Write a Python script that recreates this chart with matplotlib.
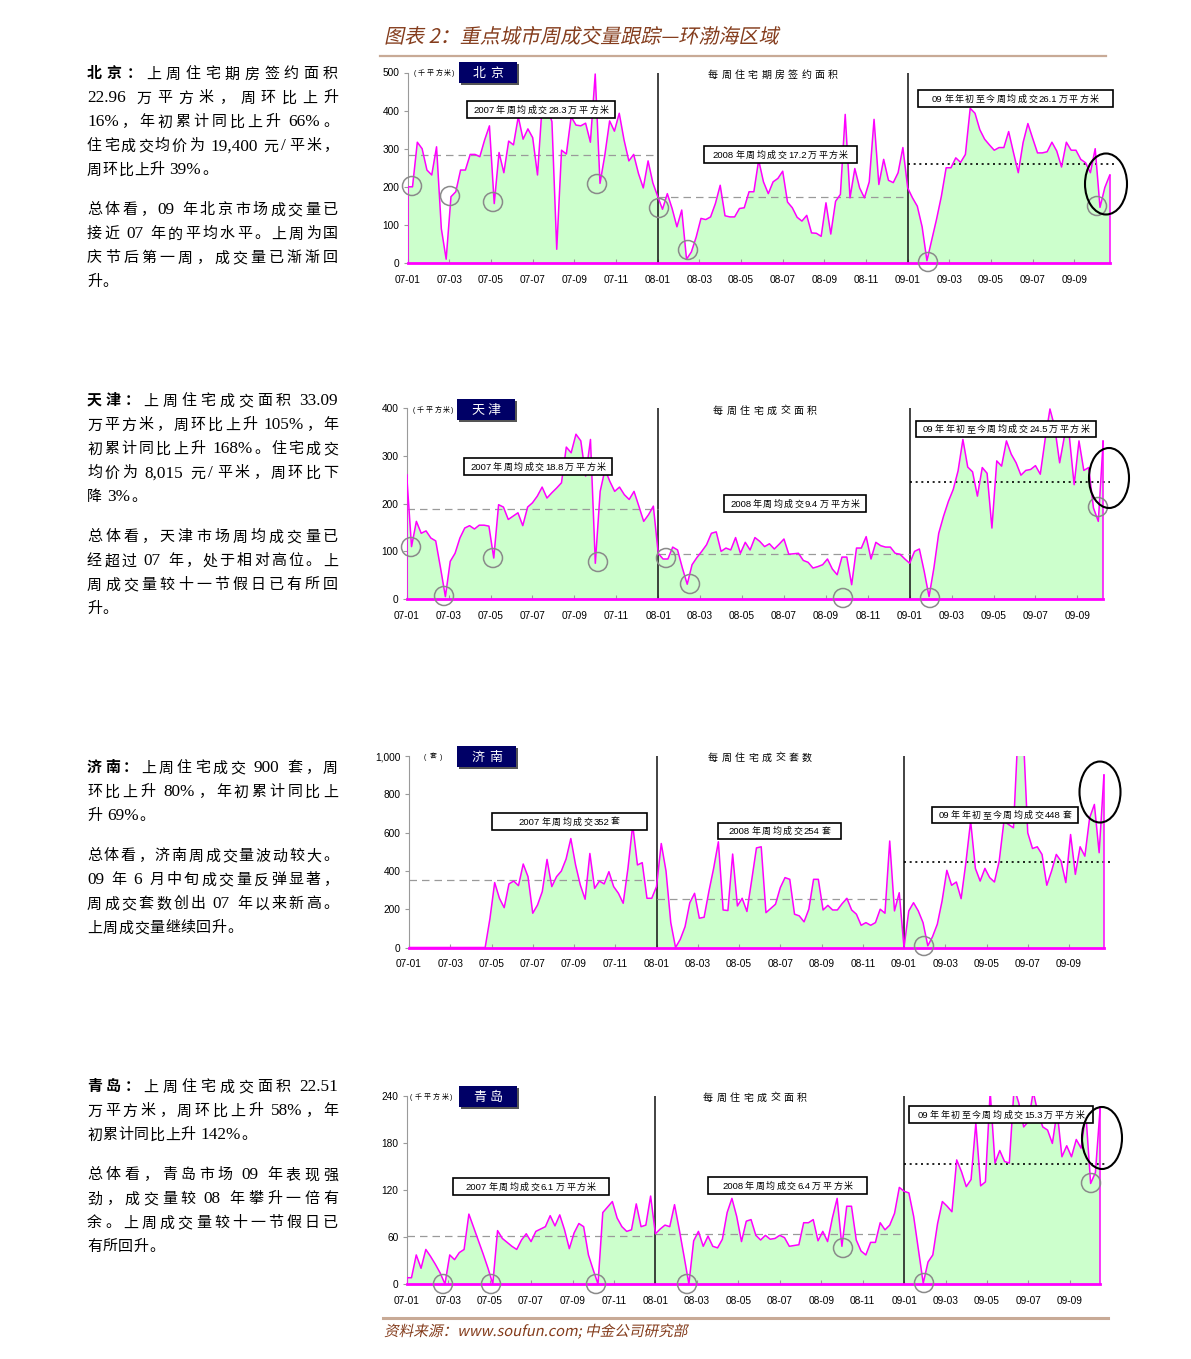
"""Weekly housing transaction tracker for four Bohai-rim cities (2007-2009)."""

import matplotlib

matplotlib.use("Agg")
import matplotlib.pyplot as plt
import numpy as np
from matplotlib.font_manager import FontProperties
from matplotlib.patches import Ellipse, PathPatch, Rectangle
from matplotlib.textpath import TextPath
from matplotlib.ticker import FuncFormatter
from matplotlib.transforms import Affine2D

FIG_W, FIG_H = 1191, 1359
CJK = "Noto Sans CJK SC"
SANS = "Liberation Sans"
SERIF = "Liberation Serif"
MAGENTA = "#ff00ff"
FILL = "#ccffcc"
BROWN = "#843c1c"
RULE = "#c8aa96"
NAVY = "#000066"

MONTH_LABELS = ["07-01", "07-03", "07-05", "07-07", "07-09", "07-11",
                "08-01", "08-03", "08-05", "08-07", "08-09", "08-11",
                "09-01", "09-03", "09-05", "09-07", "09-09"]

# Beijing, weekly signed area of off-plan housing (thousand sq m)
BJ_2007 = [200, 200, 317, 300, 244, 231, 305, 90, 10, 174, 187, 244, 244, 285, 285, 279, 323, 360,
           156, 290, 237, 320, 310, 384, 325, 352, 329, 231, 420, 410, 371, 36, 296, 286, 384, 362,
           360, 367, 317, 496, 209, 283, 373, 346, 393, 323, 268, 285, 235, 197, 268, 210]
BJ_2008 = [175, 141, 182, 143, 95, 139, 10, 29, 68, 117, 114, 121, 156, 204, 124, 121, 121, 143,
           145, 187, 187, 270, 213, 182, 213, 222, 241, 160, 145, 120, 110, 125, 79, 78, 70, 158,
           76, 162, 180, 390, 171, 248, 197, 171, 213, 377, 206, 272, 217, 211, 237, 303]
BJ_2009 = [197, 171, 149, 95, 6, 60, 115, 175, 250, 250, 276, 264, 285, 406, 393, 350, 325, 310,
           296, 303, 303, 345, 290, 237, 316, 366, 327, 289, 289, 292, 317, 294, 252, 317, 296, 296,
           272, 263, 237, 300, 146, 198, 230]
BJ_AVG = [283, 172, 261]
BJ_NOTES = ["2007年周均成交28.3万平方米", "2008年周均成交17.2万平方米", "09年年初至今周均成交26.1万平方米"]

# Tianjin, weekly transacted area (thousand sq m)
TJ_2007 = [260, 110, 163, 138, 143, 128, 122, 65, 5, 79, 96, 128, 149, 154, 147, 155, 155, 153,
           86, 198, 193, 167, 174, 181, 154, 193, 202, 216, 235, 212, 223, 233, 244, 319, 307, 346,
           332, 258, 335, 75, 226, 272, 247, 226, 235, 219, 209, 226, 195, 163, 177, 195]
TJ_2008 = [96, 84, 84, 109, 103, 65, 31, 72, 87, 100, 114, 138, 141, 100, 107, 103, 129, 96, 119,
           103, 129, 121, 110, 116, 105, 115, 126, 94, 95, 96, 81, 77, 65, 68, 72, 84, 63, 51, 88,
           88, 30, 107, 107, 131, 84, 119, 112, 109, 109, 96, 94, 84]
TJ_2009 = [75, 100, 105, 58, 5, 65, 138, 174, 205, 230, 269, 335, 277, 267, 216, 276, 264, 149,
           290, 279, 332, 304, 286, 260, 270, 272, 280, 262, 335, 399, 360, 286, 342, 342, 240, 332,
           270, 276, 191, 163, 331]
TJ_AVG = [188, 94, 245]
TJ_NOTES = ["2007年周均成交18.8万平方米", "2008年周均成交9.4万平方米", "09年年初至今周均成交24.5万平方米"]

# Jinan, weekly transacted units
JN_2007 = [0, 0, 0, 0, 0, 0, 0, 0, 0, 0, 0, 0, 0, 0, 0, 0, 0,
           150, 339, 257, 208, 332, 347, 323, 436, 370, 179, 222, 292, 460, 318, 370, 399, 462, 569,
           431, 326, 252, 491, 309, 347, 332, 396, 318, 283, 231, 413, 640, 431, 443, 257, 257]
JN_2008 = [318, 543, 399, 130, 0, 43, 109, 234, 283, 153, 158, 292, 413, 552, 196, 193, 488, 217,
           257, 188, 352, 520, 526, 182, 204, 226, 312, 365, 356, 174, 165, 134, 200, 356, 356, 196,
           220, 196, 196, 229, 257, 196, 174, 116, 130, 116, 130, 200, 179, 556, 191, 286]
JN_2009 = [0, 191, 234, 191, 130, 9, 57, 122, 243, 403, 325, 342, 255, 443, 660, 413, 347, 413,
           365, 342, 451, 660, 642, 625, 1150, 1150, 599, 517, 526, 486, 325, 399, 486, 451, 339,
           590, 382, 526, 477, 677, 747, 495, 900]
JN_AVG = [352, 254, 448]
JN_NOTES = ["2007年周均成交352套", "2008年周均成交254套", "09年年初至今周均成交448套"]

# Qingdao, weekly transacted area (thousand sq m)
QD_2007 = [8, 8, 37, 20, 44, 35, 25, 14, 0, 37, 31, 40, 44, 89, 72, 55, 38, 20, 0, 68, 58, 53, 48,
           44, 56, 64, 54, 67, 70, 73, 87, 74, 88, 69, 45, 65, 77, 73, 37, 18, 0, 91, 98, 105, 84,
           73, 67, 69, 102, 73, 75, 112]
QD_2008 = [64, 70, 75, 73, 101, 69, 35, 0, 55, 67, 48, 61, 48, 46, 57, 91, 109, 86, 54, 80, 82, 62,
           56, 62, 57, 58, 62, 59, 48, 49, 50, 78, 78, 82, 55, 67, 54, 84, 109, 48, 99, 99, 56, 42,
           37, 53, 53, 78, 69, 75, 90, 123]
QD_2009 = [118, 116, 86, 43, 1, 28, 37, 77, 105, 99, 92, 158, 143, 124, 133, 205, 125, 130, 245,
           154, 170, 156, 154, 250, 230, 200, 207, 245, 217, 200, 196, 179, 220, 162, 176, 162, 184,
           173, 217, 128, 142, 225]
QD_AVG = [61, 64, 153]
QD_NOTES = ["2007年周均成交6.1万平方米", "2008年周均成交6.4万平方米", "09年年初至今周均成交15.3万平方米"]

BJ_TEXT = [["北京：上周住宅期房签约面积", "22.96 万平方米，周环比上升", "16%，年初累计同比上升 66%。",
            "住宅成交均价为 19,400 元/平米，", "周环比上升 39%。"],
           ["总体看，09 年北京市场成交量已", "接近 07 年的平均水平。上周为国", "庆节后第一周，成交量已渐渐回", "升。"]]
TJ_TEXT = [["天津：上周住宅成交面积 33.09", "万平方米，周环比上升 105%，年", "初累计同比上升 168%。住宅成交",
            "均价为 8,015 元/平米，周环比下", "降 3%。"],
           ["总体看，天津市场周均成交量已", "经超过 07 年，处于相对高位。上", "周成交量较十一节假日已有所回", "升。"]]
JN_TEXT = [["济南：上周住宅成交 900 套，周", "环比上升 80%，年初累计同比上", "升 69%。"],
           ["总体看，济南周成交量波动较大。", "09 年 6 月中旬成交量反弹显著，", "周成交套数创出 07 年以来新高。",
            "上周成交量继续回升。"]]
QD_TEXT = [["青岛：上周住宅成交面积 22.51", "万平方米，周环比上升 58%，年", "初累计同比上升 142%。"],
           ["总体看，青岛市场 09 年表现强", "劲，成交量较 08 年攀升一倍有", "余。上周成交量较十一节假日已", "有所回升。"]]

PANELS = [
    dict(name="北京", unit="(千平方米)", subtitle="每周住宅期房签约面积", text=BJ_TEXT, text_top=73,
         years=(BJ_2007, BJ_2008, BJ_2009), avg=BJ_AVG, notes=BJ_NOTES, ymax=500, ystep=100,
         left=407.7, year_px=250.0, bottom=263, top=72.5,
         unit_box=(414, 41, 72), badge=(459, 62, 58, 21), sub_box=(708, 130, 74),
         boxes=[(467, 101, 148, 17), (704, 146, 153, 17), (918, 90, 195, 17)],
         circles=[(412, 186), (450, 196), (493, 202), (597, 184), (659, 208), (688, 250), (928, 262), (1097, 206)],
         oval=(1106, 184, 42, 61)),
    dict(name="天津", unit="(千平方米)", subtitle="每周住宅成交面积", text=TJ_TEXT, text_top=400,
         years=(TJ_2007, TJ_2008, TJ_2009), avg=TJ_AVG, notes=TJ_NOTES, ymax=400, ystep=100,
         left=406.7, year_px=251.5, bottom=599, top=408.5,
         unit_box=(413, 41, 409), badge=(457, 399, 58, 21), sub_box=(713, 104, 410),
         boxes=[(464, 458, 148, 17), (724, 495, 142, 17), (916, 421, 180, 16)],
         circles=[(411, 547), (444, 596), (493, 558), (598, 562), (666, 558), (690, 584), (843, 598), (930, 598), (1098, 507)],
         oval=(1109, 478, 40, 60)),
    dict(name="济南", unit="(套)", subtitle="每周住宅成交套数", text=JN_TEXT, text_top=767,
         years=(JN_2007, JN_2008, JN_2009), avg=JN_AVG, notes=JN_NOTES, ymax=1000, ystep=200,
         left=409.0, year_px=247.5, bottom=947.5, top=756,
         unit_box=(424, 19, 756), badge=(457, 746, 59, 21), sub_box=(708, 104, 757),
         boxes=[(492, 813, 155, 17), (718, 823, 123, 16), (932, 807, 146, 16)],
         circles=[(924, 946)],
         oval=(1100, 792, 41, 61)),
    dict(name="青岛", unit="(千平方米)", subtitle="每周住宅成交面积", text=QD_TEXT, text_top=1086,
         years=(QD_2007, QD_2008, QD_2009), avg=QD_AVG, notes=QD_NOTES, ymax=240, ystep=60,
         left=406.7, year_px=248.7, bottom=1284, top=1095.5,
         unit_box=(410, 43, 1096), badge=(459, 1086, 58, 21), sub_box=(703, 104, 1097),
         boxes=[(453, 1178, 156, 17), (708, 1177, 159, 17), (909, 1106, 184, 17)],
         circles=[(443, 1284), (491, 1284), (596, 1284), (687, 1284), (843, 1248), (924, 1283), (1091, 1183)],
         oval=(1102, 1138, 40, 62)),
]

SPAN_WEEKS = 150


def is_wide(ch):
    return ord(ch) > 0x2000


def tokenize(text, size):
    """Split into CJK glyphs and latin runs; spaces become extra lead-in on the next token."""
    tokens, run, pre = [], "", 0.0
    for ch in text:
        if ch == " " or is_wide(ch):
            if run:
                tokens.append((run, pre))
                run, pre = "", 0.0
            if ch == " ":
                pre += 0.3 * size
            else:
                tokens.append((ch, pre))
                pre = 0.0
        else:
            run += ch
    if run:
        tokens.append((run, pre))
    return tokens


def token_width(tok, size, latin):
    if is_wide(tok[0]):
        return size
    path = TextPath((0, 0), tok, size=size, prop=FontProperties(family=latin))
    return path.get_extents().width + 0.1 * size


def layout(text, size, latin, latin_scale):
    toks = tokenize(text, size)
    widths = [token_width(t, size if is_wide(t[0]) else size * latin_scale, latin) for t, _ in toks]
    natural = sum(widths) + sum(pre for _, pre in toks[1:])
    return toks, widths, natural


def spaced_text(ax, x, yc, text, size, width=None, gap=None, color="black", latin=SANS,
                bold=0, latin_scale=1.0, center=False):
    """Place text token by token so a line can be stretched or letter-spaced."""
    toks, widths, natural = layout(text, size, latin, latin_scale)
    n = max(len(toks) - 1, 1)
    if gap is None:
        gap = (width - natural) / n if width is not None else 0.0
    if center:
        x = x - (natural + gap * n) / 2
    base = yc + 0.36 * size
    cx = x
    for i, ((tok, pre), w) in enumerate(zip(toks, widths)):
        if i > 0:
            cx += pre
        wide = is_wide(tok[0])
        ax.text(cx, base, tok, fontsize=(size if wide else size * latin_scale) * 0.72,
                family=CJK if wide else latin, color=color,
                weight="bold" if i < bold else "normal", ha="left", va="baseline")
        cx += w + gap


def slanted_text(ax, x, y_base, text, width, color):
    path = TextPath((0, 0), text, size=20, prop=FontProperties(family=CJK))
    k = width / path.get_extents().width
    tr = Affine2D().skew_deg(12, 0).scale(k, -k).translate(x, y_base)
    ax.add_patch(PathPatch(tr.transform_path(path), facecolor=color, edgecolor="none", lw=0))


def draw_chart(fig, p):
    wk = p["year_px"] / 52
    ax = fig.add_axes([p["left"] / FIG_W, 1 - p["bottom"] / FIG_H,
                       SPAN_WEEKS * wk / FIG_W, (p["bottom"] - p["top"]) / FIG_H])
    ax.patch.set_alpha(0)
    x = np.concatenate([np.arange(len(v)) + 52 * k for k, v in enumerate(p["years"])]).astype(float)
    y = np.concatenate([np.asarray(v, dtype=float) for v in p["years"]])
    ax.fill_between(x, y, 0, facecolor=FILL, edgecolor="none", zorder=1)
    ax.plot(x, y, color=MAGENTA, lw=1.1, zorder=4)
    ax.plot([x[0], x[0]], [0, y[0]], color=MAGENTA, lw=1.1, zorder=4)
    ax.plot([x[-1], x[-1]], [0, y[-1]], color=MAGENTA, lw=1.1, zorder=4)
    ax.plot([x[0], x[-1]], [0, 0], color=MAGENTA, lw=2.0, zorder=5, clip_on=False)

    a07, a08, a09 = p["avg"]
    ax.plot([0, 52], [a07, a07], color="#9a9a9a", lw=0.9, ls=(0, (6, 4)), zorder=3)
    ax.plot([52, 104], [a08, a08], color="#9a9a9a", lw=0.9, ls=(0, (6, 4)), zorder=3)
    ax.plot([104, x[-1] + 1.5], [a09, a09], color="black", lw=1.2, ls=(0, (1.2, 2.2)), zorder=3)
    for xv in (52, 104):
        ax.axvline(xv, color="#222222", lw=1.2, zorder=2)

    ax.set_xlim(0, SPAN_WEEKS)
    ax.set_ylim(0, p["ymax"])
    ticks = np.arange(len(MONTH_LABELS)) * 2 * 52 / 12
    ax.set_xticks(ticks, labels=MONTH_LABELS)
    ax.set_yticks(np.arange(0, p["ymax"] + 1, p["ystep"]))
    ax.yaxis.set_major_formatter(FuncFormatter(lambda v, _: f"{int(v):,}"))
    for side in ("top", "right", "bottom"):
        ax.spines[side].set_visible(False)
    ax.spines["left"].set_color("#9a9a9a")
    ax.spines["left"].set_linewidth(0.8)
    ax.tick_params(axis="x", direction="in", length=3, color="#9a9a9a", pad=8.5, labelsize=7.3)
    ax.tick_params(axis="y", direction="out", length=3, color="#9a9a9a", pad=3, labelsize=7.3)
    for lab in ax.get_xticklabels() + ax.get_yticklabels():
        lab.set_family(SANS)
    return ax


def draw_overlay(ov, p):
    ux, uw, uy = p["unit_box"]
    spaced_text(ov, ux, uy, p["unit"], 7, width=uw)
    bx, by, bw, bh = p["badge"]
    ov.add_patch(Rectangle((bx + 1.5, by + 1.5), bw, bh, facecolor="#555555", edgecolor="none"))
    ov.add_patch(Rectangle((bx, by), bw, bh, facecolor=NAVY, edgecolor="none"))
    spaced_text(ov, bx + 14, by + bh / 2, p["name"], 13, width=bw - 28, color="white")
    sx, sw, sy = p["sub_box"]
    spaced_text(ov, sx, sy, p["subtitle"], 10, width=sw)
    for (rx, ry, rw, rh), note in zip(p["boxes"], p["notes"]):
        ov.add_patch(Rectangle((rx, ry), rw, rh, facecolor="white", edgecolor="black", lw=1.2, zorder=3))
        toks, _, natural = layout(note, 9, SANS, 1.05)
        gap = min(1.5, max(-0.8, (rw - 12 - natural) / (len(toks) - 1)))
        spaced_text(ov, rx + rw / 2, ry + rh / 2, note, 9, gap=gap, latin_scale=1.05, center=True)
    for cx, cy in p["circles"]:
        ov.add_patch(Ellipse((cx, cy), 19, 19, fill=False, edgecolor="#8a8a8a", lw=1.1, zorder=4))
    ex, ey, ew, eh = p["oval"]
    ov.add_patch(Ellipse((ex, ey), ew, eh, fill=False, edgecolor="black", lw=1.5, zorder=4))

    yc = p["text_top"]
    for k, para in enumerate(p["text"]):
        for i, line in enumerate(para):
            last = i == len(para) - 1
            bold = 3 if (k == 0 and i == 0) else 0
            spaced_text(ov, 87, yc, line, 15, width=None if last else 251, latin=SERIF,
                        bold=bold, latin_scale=1.15, gap=0.6 if last else None)
            yc += 24
        yc += 16


def main():
    fig = plt.figure(figsize=(FIG_W / 100, FIG_H / 100), dpi=100, facecolor="white")
    for p in PANELS:
        draw_chart(fig, p)

    ov = fig.add_axes([0, 0, 1, 1], zorder=10)
    ov.set_xlim(0, FIG_W)
    ov.set_ylim(FIG_H, 0)
    ov.axis("off")

    slanted_text(ov, 384, 43, "图表 2：重点城市周成交量跟踪—环渤海区域", 392, BROWN)
    ov.plot([380, 1106], [56, 56], color=RULE, lw=1.6)
    for p in PANELS:
        draw_overlay(ov, p)
    ov.plot([383, 1108], [1318, 1318], color=RULE, lw=2.2)
    slanted_text(ov, 384, 1336, "资料来源：www.soufun.com; 中金公司研究部", 302, BROWN)

    fig.savefig("out.png", dpi=100, facecolor="white")
    plt.close(fig)


if __name__ == "__main__":
    main()
